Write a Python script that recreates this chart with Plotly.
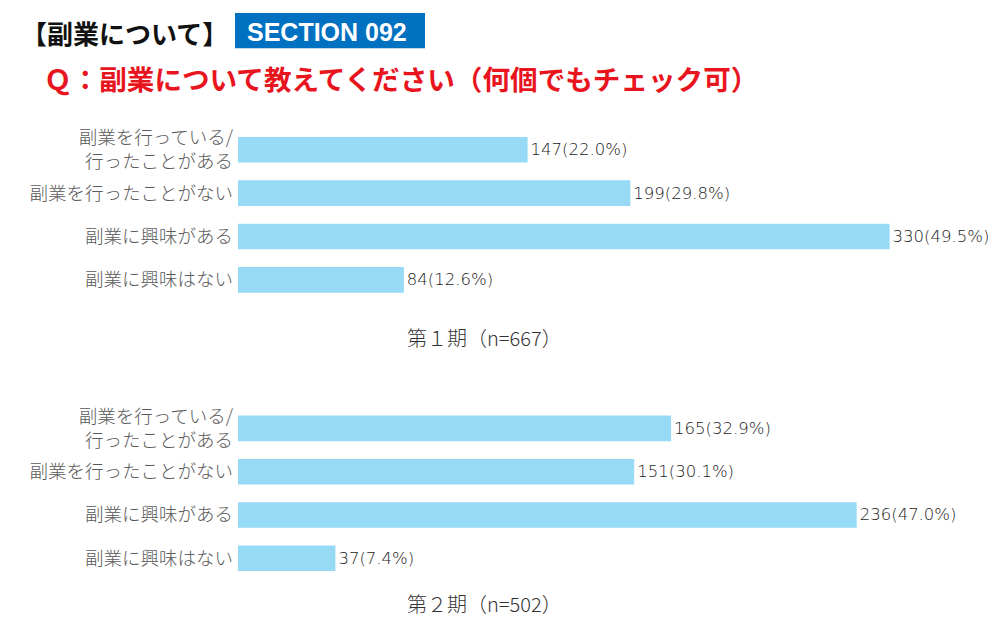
import plotly.graph_objects as go

categories = ["副業を行っている/<br>行ったことがある", "副業を行ったことがない", "副業に興味がある", "副業に興味はない"]
p1_counts = [147, 199, 330, 84]
p1_pcts = [22.0, 29.8, 49.5, 12.6]
p2_counts = [165, 151, 236, 37]
p2_pcts = [32.9, 30.1, 47.0, 7.4]
captions = ["第１期（n=667）", "第２期（n=502）"]

# page offset of the plot inside the browser window
OFFX, OFFY = 8, 12
W, H = 998 - 2 * OFFX, 610
BAR = "#97DAF6"
JP = "Noto Sans CJK JP"

fig = go.Figure()
for i, (cnt, pct) in enumerate([(p1_counts, p1_pcts), (p2_counts, p2_pcts)]):
    sfx = "" if i == 0 else "2"
    fig.add_trace(go.Bar(
        x=pct, y=categories, orientation="h",
        marker=dict(color=BAR, line=dict(width=0)),
        text=[f"{c}({p:.1f}%)" for c, p in zip(cnt, pct)],
        textposition="outside", cliponaxis=False,
        textfont=dict(family="DejaVu Sans", size=16.5, color="#1a1a1a", weight=300),
        xaxis="x" + sfx, yaxis="y" + sfx, showlegend=False,
        hoverinfo="skip",
    ))

def px_x(v):
    return (v - OFFX) / W

def px_y(v):
    return 1 - (v - OFFY) / H

xdom = [px_x(238), px_x(962)]
axis_x = dict(range=[0, 55], showgrid=False, zeroline=False, showticklabels=False,
              showline=False, ticks="", fixedrange=True)
axis_y = dict(showgrid=False, zeroline=False, showline=False, ticks="",
              autorange="reversed", ticklabelstandoff=4,
              tickfont=dict(family=JP, size=18.5, color="#595959", weight=300))

fig.update_layout(
    width=W, height=H,
    margin=dict(l=0, r=0, t=0, b=0),
    paper_bgcolor="white", plot_bgcolor="white",
    bargap=0.41,
    xaxis=dict(domain=xdom, anchor="y", **axis_x),
    yaxis=dict(domain=[px_y(303), px_y(128)], anchor="x", **axis_y),
    xaxis2=dict(domain=xdom, anchor="y2", **axis_x),
    yaxis2=dict(domain=[px_y(583.5), px_y(409)], anchor="x2", **axis_y),
    font=dict(family=JP),
)

# Header
fig.add_annotation(x=px_x(19), y=px_y(32), xref="paper", yref="paper",
                   text="<b>【副業について】</b>", showarrow=False, xanchor="left", yanchor="middle",
                   font=dict(family=JP, size=26, color="#111111"))
fig.add_shape(type="rect", xref="paper", yref="paper",
              x0=px_x(235), x1=px_x(425), y0=px_y(47.5), y1=px_y(12),
              fillcolor="#0070C0", line=dict(width=0))
fig.add_annotation(x=px_x(327), y=px_y(31), xref="paper", yref="paper",
                   text="<b>SECTION 092</b>", showarrow=False, xanchor="center", yanchor="middle",
                   font=dict(family="Liberation Sans", size=25, color="white"))
fig.add_annotation(x=px_x(42), y=px_y(78), xref="paper", yref="paper",
                   text="<b>Ｑ：副業について教えてください（何個でもチェック可）</b>", showarrow=False,
                   xanchor="left", yanchor="middle",
                   font=dict(family=JP, size=27.6, color="#E8141E"))

for cap, yc in zip(captions, [339, 607]):
    fig.add_annotation(x=px_x(484), y=px_y(yc), xref="paper", yref="paper",
                       text=cap, showarrow=False, xanchor="center", yanchor="middle",
                       font=dict(family=JP, size=20, color="#333333", weight=300))

fig.write_html("out.html")
